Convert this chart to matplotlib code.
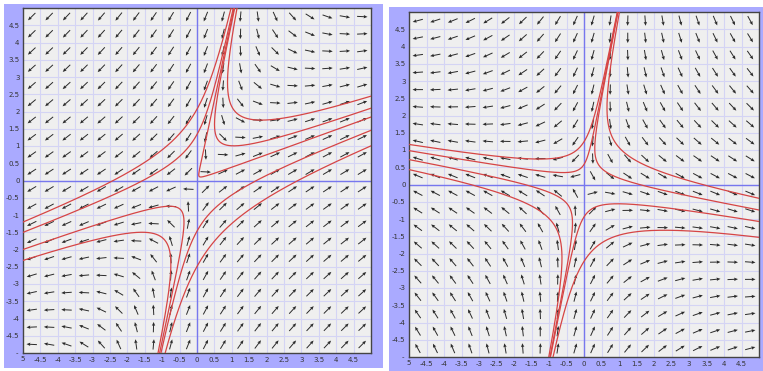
import matplotlib.pyplot as plt
import numpy as np
from matplotlib.patches import Rectangle

# linear systems  x' = a x + b y ,  y' = c x + d y
A_left = [[3.4, -1.05], [1.8, -1.9]]
A_right = [[3.8, -1.12], [-1.04, -1.8]]

# points the drawn trajectories pass through
seeds_left = [(0.07, 0.11), (0.61, 1.17), (1.0, 2.14),
              (-4.99, -1.2), (-4.99, -1.5),
              (-0.7, -0.75), (-1.2, -1.55),
              (4.99, 1.45), (4.99, 1.0)]
seeds_right = [(-4.99, 1.16), (-4.99, 0.98), (-4.99, 0.72), (-4.99, 0.43),
               (3.03, 0.1), (3.03, -0.34), (4.99, -1.07), (4.99, -1.53)]

ticks = np.arange(-4.5, 5.0, 0.5)
tick_labels = ["%g" % t for t in ticks]

W, H = 763, 371
fig = plt.figure(figsize=(W / 100, H / 100), dpi=100)


def px_rect(x0, y0, x1, y1):
    return [x0 / W, 1 - y1 / H, (x1 - x0) / W, (y1 - y0) / H]


def field(A, x, y):
    return A[0][0] * x + A[0][1] * y, A[1][0] * x + A[1][1] * y


def trace(A, p, sign, ds=0.01, nmax=4000):
    # walk along the normalised field with RK4 until the curve leaves the box
    def f(q):
        u, v = field(A, q[0], q[1])
        n = np.hypot(u, v) + 1e-12
        return sign * np.array([u / n, v / n])
    q = np.array(p, dtype=float)
    pts = [q.copy()]
    for _ in range(nmax):
        k1 = f(q)
        k2 = f(q + 0.5 * ds * k1)
        k3 = f(q + 0.5 * ds * k2)
        k4 = f(q + ds * k3)
        q = q + ds / 6 * (k1 + 2 * k2 + 2 * k3 + k4)
        pts.append(q.copy())
        if abs(q[0]) > 5.05 or abs(q[1]) > 5.05:
            break
    return np.array(pts)


def panel(bg, ax_rect, A, seeds):
    fig.patches.append(Rectangle((bg[0], bg[1]), bg[2], bg[3], transform=fig.transFigure,
                                 facecolor="#aaaaff", edgecolor="none", zorder=-10))
    ax = fig.add_axes(ax_rect)
    ax.set_facecolor("#efefef")
    ax.set_xlim(-5, 5)
    ax.set_ylim(-5, 5)
    for g in np.arange(-4.5, 5.0, 0.5):
        ax.axvline(g, color="#d4d4f4", lw=0.8, zorder=1)
        ax.axhline(g, color="#d4d4f4", lw=0.8, zorder=1)
    ax.axvline(0, color="#7777ee", lw=1.0, zorder=2)
    ax.axhline(0, color="#7777ee", lw=1.0, zorder=2)

    # direction arrows: each component scaled by its largest value, then unit length
    c = np.arange(-4.75, 5.0, 0.5)
    X, Y = np.meshgrid(c, c)
    U, V = field(A, X, Y)
    U = U / np.abs(U).max()
    V = V / np.abs(V).max()
    N = np.hypot(U, V)
    L = 0.3
    ax.quiver(X, Y, L * U / N, L * V / N, angles="xy", scale_units="xy", scale=1,
              pivot="mid", color="#2a2a2a", width=0.0028, headwidth=3.5,
              headlength=4, headaxislength=3.5, zorder=3)

    for s in seeds:
        fwd = trace(A, s, 1.0)
        bwd = trace(A, s, -1.0)
        p = np.vstack([bwd[::-1], fwd[1:]])
        ax.plot(p[:, 0], p[:, 1], color="#d64545", lw=0.9, zorder=4)

    ax.set_xticks(ticks)
    ax.set_yticks(ticks)
    ax.set_xticklabels(tick_labels)
    ax.set_yticklabels(tick_labels)
    ax.tick_params(length=0, labelsize=5, colors="#333333")
    ax.tick_params(axis="x", pad=3)
    ax.tick_params(axis="y", pad=2.5)
    ax.text(-5, -5.17, "5", fontsize=5, color="#333333", ha="center", va="center")
    ax.text(-5.15, -5, "-", fontsize=5, color="#333333", ha="right", va="center")
    for sp in ax.spines.values():
        sp.set_color("#444444")
        sp.set_linewidth(1.0)
    return ax


panel((4 / W, 1 - 368 / H, 379 / W, 364 / H), px_rect(23, 8, 371, 353), A_left, seeds_left)
panel((389 / W, 0, 374 / W, 364 / H), px_rect(409, 12, 759, 357), A_right, seeds_right)

fig.savefig("out.png", dpi=100)
